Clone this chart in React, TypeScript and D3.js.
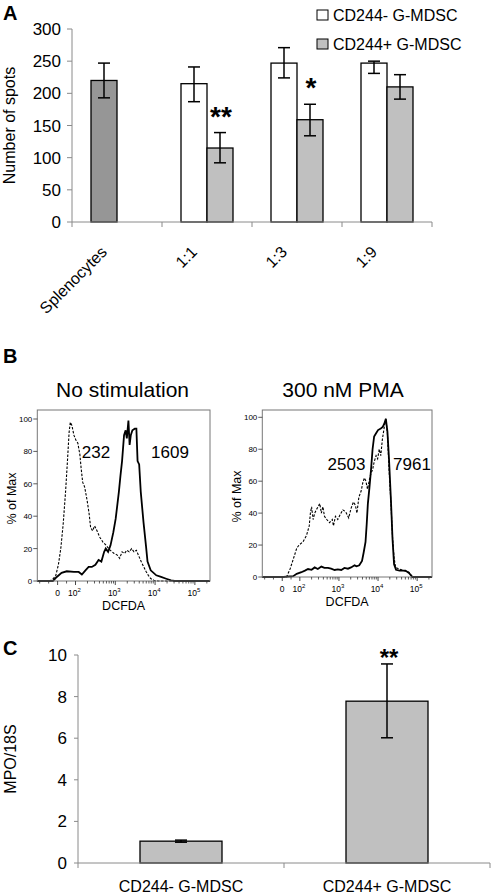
import React from "react";
import * as d3 from "d3";

const FONT = "'Liberation Sans', Arial, Helvetica, sans-serif";

// ---------- Panel A data ----------
const aCategories = ["Splenocytes", "1:1", "1:3", "1:9"];
const aYTicks = [0, 50, 100, 150, 200, 250, 300];
const splenocyteMean = 220;
const splenocyteLow = 193;
const splenocyteHigh = 247;
const ratioCategories = ["1:1", "1:3", "1:9"];
const negMeans = [215, 247, 247];
const negLows = [187, 224, 231];
const negHighs = [241, 271, 250];
const posMeans = [115, 159, 210];
const posLows = [92, 134, 191];
const posHighs = [139, 183, 229];
const posStars = ["**", "*", ""];
const legendLabels = ["CD244- G-MDSC", "CD244+ G-MDSC"];

// ---------- Panel B data (x in log10 display channel, y in % of max) ----------
const histTitles = ["No stimulation", "300 nM PMA"];
const histYTicks = [0, 20, 40, 60, 80, 100];
const histMajorTicks = [0, 100, 1000, 10000, 100000];
const histMinorTicks = [-100, -50, 50,
  200, 300, 400, 500, 600, 700, 800, 900,
  2000, 3000, 4000, 5000, 6000, 7000, 8000, 9000,
  20000, 30000, 40000, 50000, 60000, 70000, 80000, 90000, 200000];
const noStimLabels = ["232", "1609"];
const pmaLabels = ["2503", "7961"];

const noStimDashed: [number, number][] = [[1.04,0],[1.24,0],[1.40,0.5],[1.50,3],[1.57,10],[1.63,20],[1.69,35],[1.75,55],[1.80,75],[1.84,92],[1.87,98],[1.91,96],[1.96,90],[2.01,87],[2.06,85],[2.11,78],[2.14,70],[2.18,61],[2.23,58],[2.29,50],[2.34,42],[2.38,33],[2.43,31],[2.48,34],[2.54,31],[2.61,27],[2.69,24],[2.77,22],[2.87,19],[2.97,17],[3.05,16],[3.11,14],[3.17,18],[3.23,17],[3.29,19],[3.35,18],[3.41,20],[3.47,18],[3.53,19],[3.58,16],[3.65,12],[3.71,9],[3.77,6],[3.83,3.5],[3.89,1.5],[3.97,0.5],[4.07,0],[5.38,0]];
const noStimSolid: [number, number][] = [[1.04,0],[1.43,0],[1.53,2.5],[1.65,5],[1.78,6],[1.96,5.6],[2.08,5.6],[2.16,4],[2.25,6.6],[2.33,8.7],[2.41,8.7],[2.50,10],[2.58,13],[2.65,12],[2.72,18],[2.76,20],[2.82,18],[2.88,22],[2.95,30],[3.01,38.5],[3.09,55],[3.13,65],[3.17,74],[3.22,90],[3.26,93],[3.29,88],[3.33,99],[3.36,84],[3.39,90],[3.43,93],[3.49,94],[3.53,94],[3.56,74],[3.60,72],[3.64,55],[3.71,36],[3.77,22],[3.81,12],[3.89,6.6],[4.03,3.5],[4.15,2.5],[4.28,1.4],[4.40,0.4],[4.49,0],[5.38,0]];
const pmaDashed: [number, number][] = [[1.04,0],[1.66,0],[1.75,5],[1.83,11],[1.92,18],[1.98,20],[2.08,22],[2.17,26],[2.24,32],[2.27,40],[2.30,44],[2.34,36],[2.38,40],[2.42,42],[2.51,46],[2.55,40],[2.59,44],[2.63,38],[2.69,36],[2.76,34],[2.83,36],[2.86,32],[2.91,38],[2.97,36],[3.03,39],[3.10,42],[3.17,41],[3.25,37],[3.31,43],[3.37,47],[3.42,45],[3.46,40],[3.51,50],[3.57,54],[3.61,59],[3.65,62],[3.69,60],[3.73,55],[3.78,61],[3.82,65],[3.86,67],[3.90,72],[3.95,76],[3.99,74],[4.03,80],[4.07,76],[4.11,86],[4.16,94],[4.20,99],[4.24,90],[4.28,68],[4.33,46],[4.37,25],[4.41,12],[4.45,6],[4.54,5],[4.66,4],[4.79,3],[4.88,0],[5.38,0]];
const pmaSolid: [number, number][] = [[1.04,0],[1.58,0],[1.83,0.5],[1.92,2],[2.04,3],[2.13,4],[2.21,5],[2.30,4.5],[2.38,6],[2.46,5],[2.55,6.5],[2.63,5.7],[2.72,5.7],[2.80,5.2],[2.89,4.4],[2.97,4.8],[3.06,4.4],[3.14,5.7],[3.23,5.2],[3.31,6],[3.40,7.3],[3.45,6.7],[3.52,7.3],[3.59,10],[3.63,15],[3.68,22],[3.71,33],[3.74,46],[3.78,56],[3.82,67],[3.86,80],[3.90,88],[3.95,90],[4.00,92],[4.07,93],[4.12,94],[4.16,96],[4.20,99],[4.24,91],[4.28,74],[4.33,48],[4.37,24],[4.41,8],[4.46,4.5],[4.55,4],[4.70,4],[4.79,2.5],[4.88,0],[5.38,0]];

// ---------- Panel C data ----------
const cCategories = ["CD244- G-MDSC", "CD244+ G-MDSC"];
const cMeans = [1.05, 7.78];
const cLows = [1.0, 6.02];
const cHighs = [1.1, 9.57];
const cStars = ["", "**"];
const cYTicks = [0, 2, 4, 6, 8, 10];

// logicle-like display transform: linear below 100, log above
const channel = (v: number) => (v >= 100 ? Math.log10(v) : 1.55 + (0.45 * v) / 100);

const AXIS = "#8a8a8a";
const GRAY = "#c0c0c0";
const DARK = "#969696";

function ErrorBar({ x, y1, y2, cap, sw = 1.5 }: { x: number; y1: number; y2: number; cap: number; sw?: number }) {
  return (
    <g stroke="#000" strokeWidth={sw}>
      <line x1={x} x2={x} y1={y1} y2={y2} />
      <line x1={x - cap} x2={x + cap} y1={y1} y2={y1} />
      <line x1={x - cap} x2={x + cap} y1={y2} y2={y2} />
    </g>
  );
}

function PanelA() {
  const y = d3.scaleLinear().domain([0, 300]).range([222, 29]);
  const x = d3.scaleBand().domain(aCategories).range([72, 432]);
  const bw = 26;
  const center = (c: string) => (x(c) as number) + x.bandwidth() / 2;
  const boundaries = [72, ...aCategories.map((c) => (x(c) as number) + x.bandwidth())];
  return (
    <g fontFamily={FONT}>
      <text x={3} y={20} fontSize={20} fontWeight="bold">A</text>
      <line x1={72} x2={72} y1={y(300)} y2={y(0)} stroke={AXIS} />
      {aYTicks.map((t) => (
        <g key={t}>
          <line x1={67} x2={72} y1={y(t)} y2={y(t)} stroke={AXIS} />
          <text x={61} y={y(t) + 6} fontSize={17} textAnchor="end">{t}</text>
        </g>
      ))}
      <text transform={`translate(14.5,${y(150)}) rotate(-90)`} fontSize={16} textAnchor="middle">Number of spots</text>
      <rect x={center("Splenocytes") - bw} y={y(splenocyteMean)} width={bw} height={y(0) - y(splenocyteMean)} fill={DARK} stroke="#000" strokeWidth={1.3} />
      <ErrorBar x={center("Splenocytes") - bw / 2} y1={y(splenocyteHigh)} y2={y(splenocyteLow)} cap={6} />
      {ratioCategories.map((c, i) => {
        const cx = center(c);
        return (
          <g key={c}>
            <rect x={cx - bw} y={y(negMeans[i])} width={bw} height={y(0) - y(negMeans[i])} fill="#fff" stroke="#000" strokeWidth={1.3} />
            <rect x={cx} y={y(posMeans[i])} width={bw} height={y(0) - y(posMeans[i])} fill={GRAY} stroke="#000" strokeWidth={1.3} />
            <ErrorBar x={cx - bw / 2} y1={y(negHighs[i])} y2={y(negLows[i])} cap={6} />
            <ErrorBar x={cx + bw / 2} y1={y(posHighs[i])} y2={y(posLows[i])} cap={6} />
            {posStars[i] && (
              <text x={cx + bw / 2 + 1} y={y(posHighs[i]) - 7} fontSize={28} fontWeight="bold" textAnchor="middle">{posStars[i]}</text>
            )}
          </g>
        );
      })}
      <line x1={72} x2={432} y1={y(0)} y2={y(0)} stroke={AXIS} />
      {boundaries.map((b, i) => (
        <line key={i} x1={b} x2={b} y1={y(0)} y2={y(0) + 5} stroke={AXIS} />
      ))}
      {aCategories.map((c) => (
        <text key={c} transform={`translate(${center(c) - 9},253) rotate(-45)`} fontSize={16} textAnchor="end">{c}</text>
      ))}
      {legendLabels.map((l, i) => (
        <g key={l}>
          <rect x={317} y={10 + i * 29} width={11} height={10} fill={i === 0 ? "#fff" : GRAY} stroke="#000" strokeWidth={1} />
          <text x={333} y={20.5 + i * 29} fontSize={16}>{l}</text>
        </g>
      ))}
    </g>
  );
}

function Histogram({ box, yRange, title, titleX, dashed, solid, labels, labelPos }: any) {
  const x = d3.scaleLinear().domain([1.04, 5.38]).range([box.x0, box.x1]);
  const y = d3.scaleLinear().domain([0, 100]).range(yRange);
  const line = d3.line<[number, number]>().x((d) => x(d[0])).y((d) => y(d[1]));
  const sup = ["", "", "2", "3", "4", "5"];
  return (
    <g fontFamily={FONT}>
      <text x={titleX} y={397} fontSize={21} textAnchor="middle">{title}</text>
      <path d={line(dashed) as string} fill="none" stroke="#000" strokeWidth={1.1} strokeDasharray="2.5,1.5" />
      <path d={line(solid) as string} fill="none" stroke="#000" strokeWidth={1.8} />
      <rect x={box.x0} y={box.y0} width={box.x1 - box.x0} height={box.y1 - box.y0} fill="none" stroke="#777" strokeWidth={1} />
      {histYTicks.map((t) => (
        <g key={t}>
          <line x1={box.x0 - 4} x2={box.x0} y1={y(t)} y2={y(t)} stroke="#333" strokeWidth={0.8} />
          <text x={box.x0 - 5} y={y(t) + 3} fontSize={8} textAnchor="end">{t}</text>
        </g>
      ))}
      {histMinorTicks.map((t) => (
        <line key={t} x1={x(channel(t))} x2={x(channel(t))} y1={box.y1} y2={box.y1 + 2.5} stroke="#333" strokeWidth={0.8} />
      ))}
      {histMajorTicks.map((t) => {
        const px = x(channel(t));
        const e = t === 0 ? 0 : Math.round(Math.log10(t));
        return (
          <g key={t}>
            <line x1={px} x2={px} y1={box.y1} y2={box.y1 + 4} stroke="#333" strokeWidth={0.9} />
            {t === 0 ? (
              <text x={px} y={box.y1 + 15} fontSize={8.5} textAnchor="middle">0</text>
            ) : (
              <text x={px - 1} y={box.y1 + 15} fontSize={8.5} textAnchor="middle">
                10<tspan fontSize={6} dy={-4}>{sup[e]}</tspan>
              </text>
            )}
          </g>
        );
      })}
      <text x={(box.x0 + box.x1) / 2} y={box.y1 + 29} fontSize={12.5} textAnchor="middle">DCFDA</text>
      <text transform={`translate(${box.x0 - 21},${(box.y0 + box.y1) / 2 + 3}) rotate(-90)`} fontSize={12.5} textAnchor="middle">% of Max</text>
      {labels.map((l: string, i: number) => (
        <text key={l} x={labelPos[i][0]} y={labelPos[i][1]} fontSize={17} textAnchor="middle">{l}</text>
      ))}
    </g>
  );
}

function PanelC() {
  const y = d3.scaleLinear().domain([0, 10]).range([863, 655]);
  const x = d3.scaleBand().domain(cCategories).range([78, 490]);
  const bw = 82;
  return (
    <g fontFamily={FONT}>
      <text x={3} y={655} fontSize={20} fontWeight="bold">C</text>
      <line x1={78} x2={78} y1={y(10)} y2={y(0)} stroke={AXIS} />
      {cYTicks.map((t) => (
        <g key={t}>
          <line x1={74} x2={78} y1={y(t)} y2={y(t)} stroke={AXIS} />
          <text x={67} y={y(t) + 6} fontSize={17} textAnchor="end">{t}</text>
        </g>
      ))}
      <text transform={`translate(16,${y(5)}) rotate(-90)`} fontSize={16} textAnchor="middle">MPO/18S</text>
      {cCategories.map((c, i) => {
        const cx = (x(c) as number) + x.bandwidth() / 2;
        return (
          <g key={c}>
            <rect x={cx - bw / 2} y={y(cMeans[i])} width={bw} height={y(0) - y(cMeans[i])} fill={GRAY} stroke="#000" strokeWidth={1.3} />
            <ErrorBar x={cx} y1={y(cHighs[i])} y2={y(cLows[i])} cap={6} />
            {cStars[i] && (
              <text x={cx + 2} y={y(cHighs[i]) + 2} fontSize={24} fontWeight="bold" textAnchor="middle">{cStars[i]}</text>
            )}
            <text x={cx} y={892} fontSize={16} textAnchor="middle">{c}</text>
          </g>
        );
      })}
      <line x1={78} x2={490} y1={y(0)} y2={y(0)} stroke={AXIS} />
      {[78, ...cCategories.map((c) => (x(c) as number) + x.bandwidth())].map((b, i) => (
        <line key={i} x1={b} x2={b} y1={y(0)} y2={y(0) + 5} stroke={AXIS} />
      ))}
    </g>
  );
}

export default function App() {
  return (
    <svg width={492} height={895} style={{ position: "absolute", left: 0, top: 0, background: "#fff" }}>
      <rect width={492} height={895} fill="#fff" />
      <PanelA />
      <text x={3} y={363} fontSize={20} fontWeight="bold" fontFamily={FONT}>B</text>
      <Histogram box={{ x0: 37.3, x1: 210, y0: 410, y1: 581 }} yRange={[581, 419]} title={histTitles[0]} titleX={122.5}
        dashed={noStimDashed} solid={noStimSolid} labels={noStimLabels} labelPos={[[96, 458], [170, 458]]} />
      <Histogram box={{ x0: 262.3, x1: 432, y0: 410, y1: 577 }} yRange={[577, 417.3]} title={histTitles[1]} titleX={343}
        dashed={pmaDashed} solid={pmaSolid} labels={pmaLabels} labelPos={[[346.5, 470], [412, 470]]} />
      <PanelC />
    </svg>
  );
}
